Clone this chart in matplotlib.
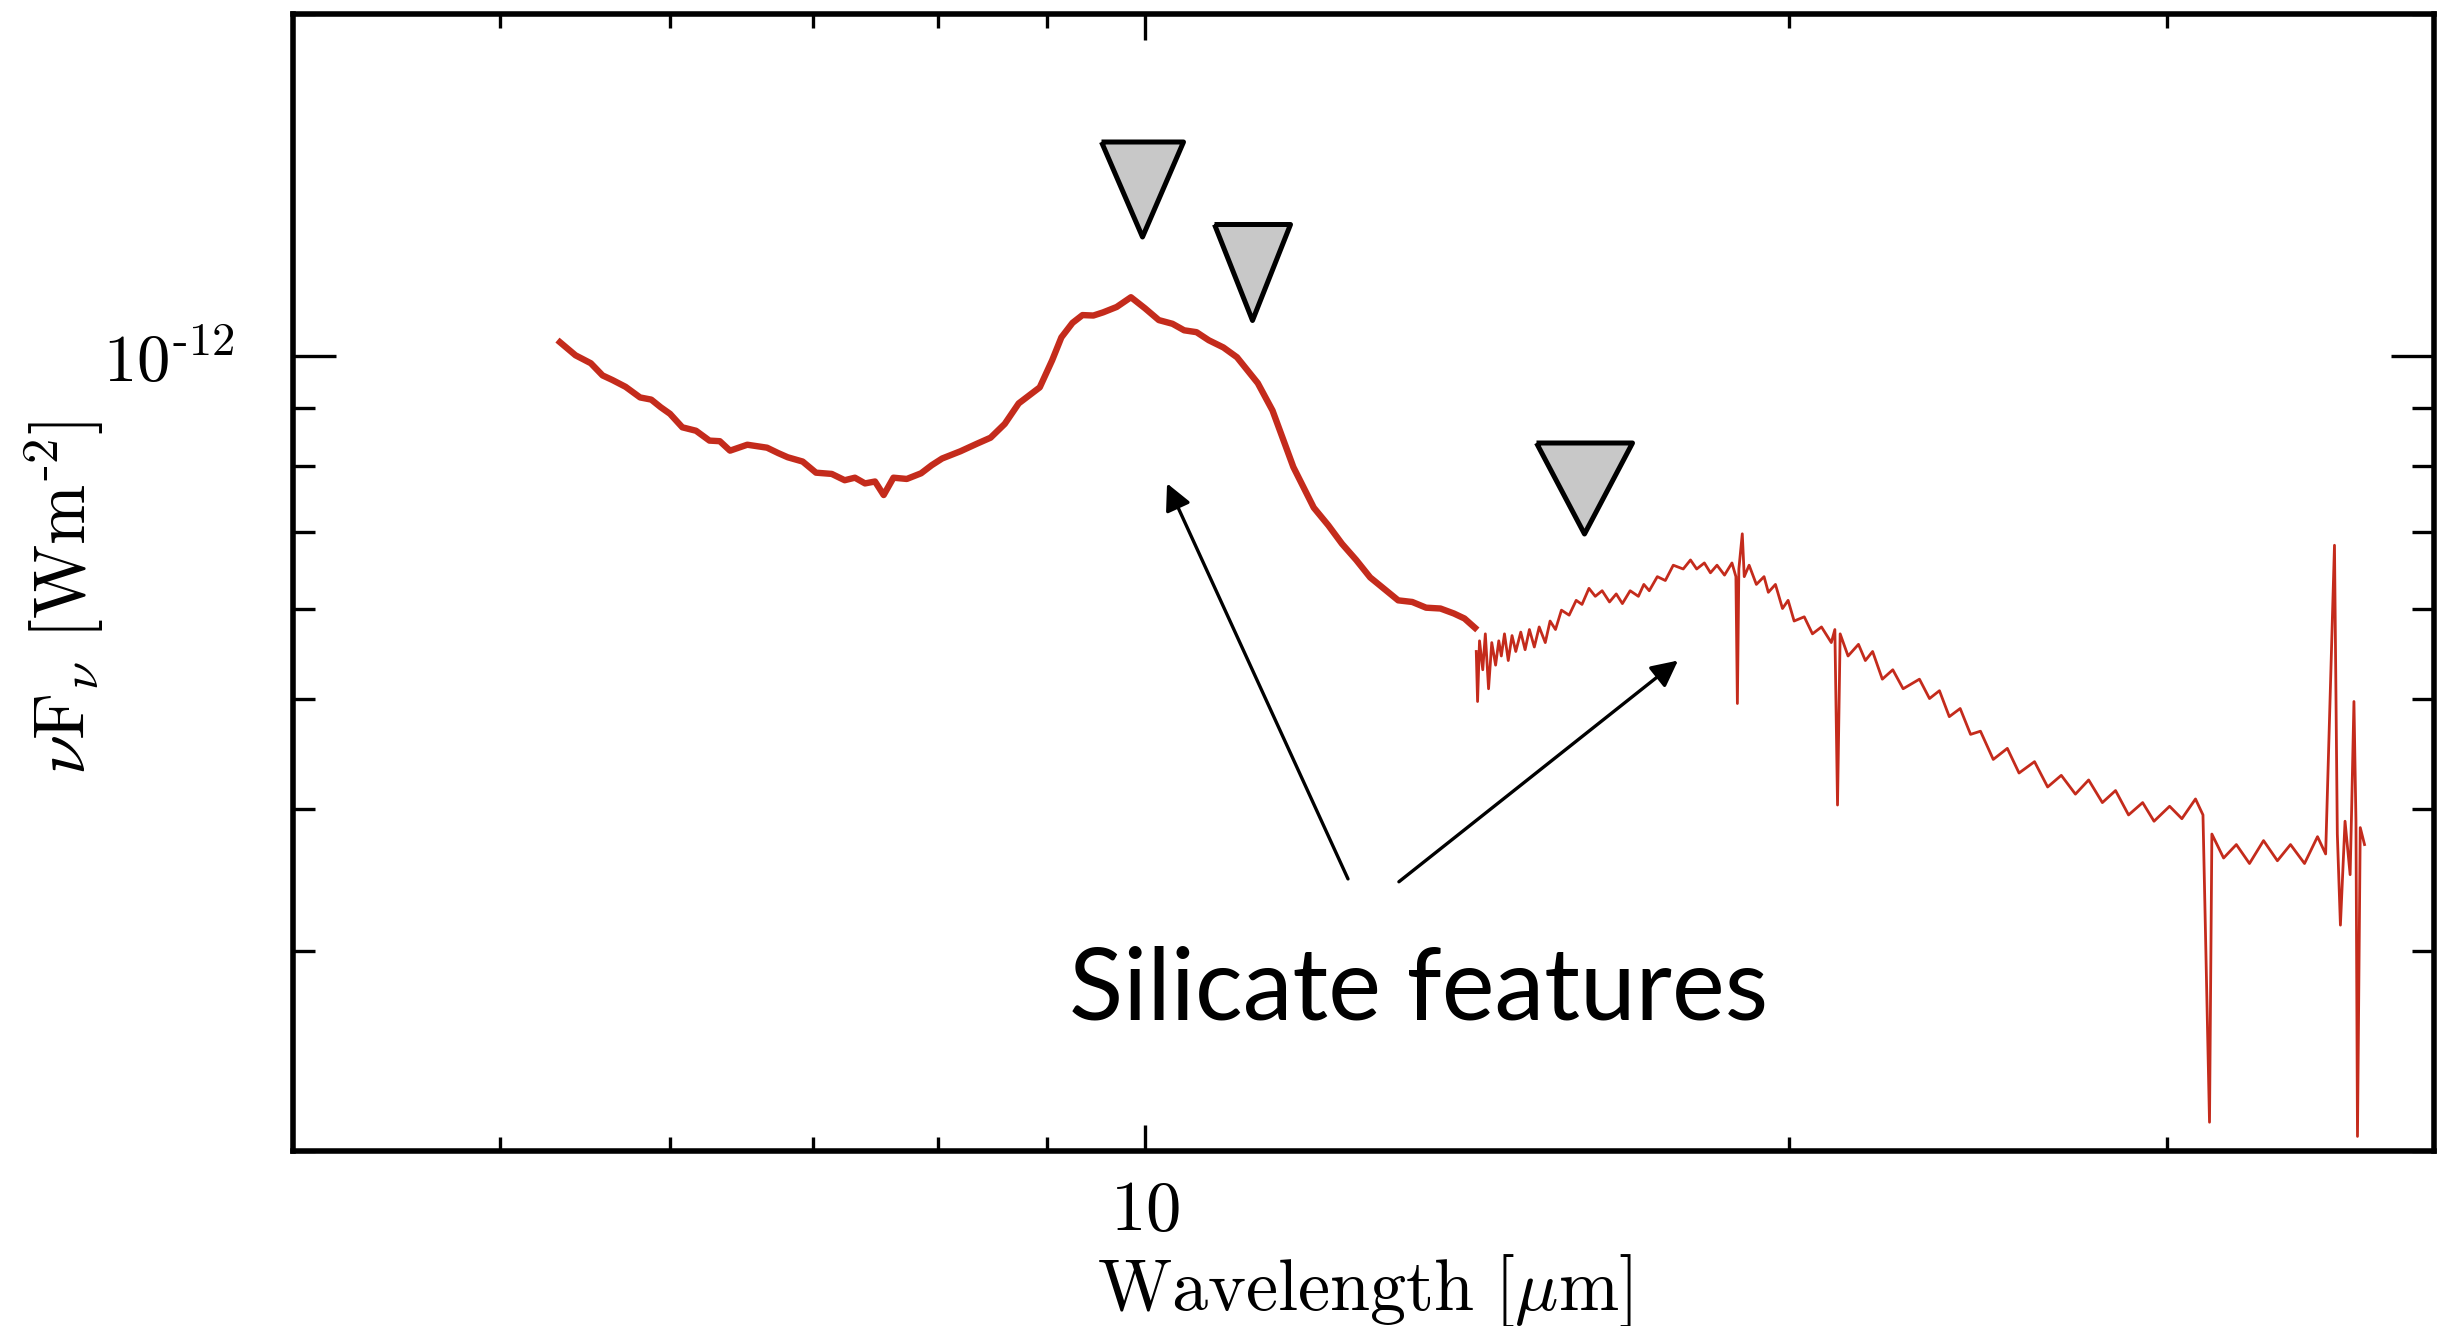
import matplotlib

matplotlib.use("Agg")
import matplotlib.pyplot as plt
from matplotlib.ticker import FixedLocator, NullFormatter, FixedFormatter


# smooth low-resolution part of the spectrum (wavelength in micron, flux in 1e-13 W m^-2)
WAVE_LOW = [5.33, 5.42, 5.51, 5.58, 5.64, 5.72, 5.81, 5.88, 5.94, 6.00, 6.08, 6.17,
            6.26, 6.33, 6.40, 6.52, 6.66, 6.74, 6.81, 6.92, 7.02, 7.14, 7.24,
            7.32, 7.40, 7.48, 7.55, 7.63, 7.74, 7.86, 7.95, 8.04, 8.20, 8.35, 8.47,
            8.60, 8.73, 8.93, 9.05, 9.14, 9.25, 9.35, 9.46, 9.56, 9.70, 9.85, 10.00,
            10.15, 10.30, 10.43, 10.57, 10.71, 10.88, 11.04, 11.29, 11.47, 11.73,
            11.99, 12.18, 12.36, 12.55, 12.74, 13.13, 13.33, 13.53, 13.74, 13.94,
            14.10, 14.26]
FLUX_LOW = [10.29, 10.02, 9.86, 9.62, 9.53, 9.40, 9.20, 9.16, 9.02, 8.90, 8.66, 8.60,
            8.43, 8.42, 8.26, 8.36, 8.31, 8.22, 8.15, 8.08, 7.90, 7.88, 7.78,
            7.82, 7.73, 7.76, 7.55, 7.82, 7.80, 7.89, 8.02, 8.13, 8.25, 8.38, 8.48,
            8.72, 9.09, 9.39, 9.92, 10.39, 10.70, 10.87, 10.86, 10.93, 11.05, 11.27,
            11.02, 10.76, 10.68, 10.54, 10.50, 10.33, 10.18, 9.98, 9.47, 8.96, 7.99,
            7.36, 7.10, 6.84, 6.62, 6.39, 6.10, 6.08, 6.01, 6.00, 5.94, 5.88, 5.77]

# noisy long-wavelength part
WAVE_HIGH = [14.28, 14.30, 14.33, 14.38, 14.42, 14.47, 14.52, 14.58, 14.63, 14.67,
             14.72, 14.78, 14.84, 14.90, 14.98, 15.05, 15.12, 15.20, 15.28, 15.38,
             15.46, 15.55, 15.65, 15.78, 15.90, 16.00, 16.12, 16.23, 16.35, 16.48,
             16.60, 16.71, 16.85, 17.00, 17.10, 17.20, 17.35, 17.50, 17.65, 17.84,
             17.98, 18.10, 18.25, 18.37, 18.50, 18.65, 18.80, 18.88, 18.91, 18.94,
             19.01, 19.05, 19.15, 19.30, 19.46, 19.55, 19.70, 19.85, 19.97, 20.10,
             20.32, 20.50, 20.70, 20.92, 21.00, 21.06, 21.12, 21.30, 21.54, 21.70,
             21.87, 22.10, 22.35, 22.60, 23.00, 23.25, 23.50, 23.75, 24.03, 24.30,
             24.56, 24.90, 25.28, 25.60, 26.03, 26.40, 26.79, 27.20, 27.59, 28.00,
             28.40, 28.80, 29.24, 29.60, 30.10, 30.50, 30.95, 31.20, 31.42, 31.50,
             31.90, 32.34, 32.80, 33.30, 33.80, 34.28, 34.80, 35.29, 35.60, 35.94,
             36.05, 36.17, 36.35, 36.55, 36.61, 36.70, 36.78, 36.84, 36.95, 37.12]
FLUX_HIGH = [5.50, 4.97, 5.62, 5.30, 5.70, 5.10, 5.60, 5.35, 5.62, 5.45,
             5.70, 5.40, 5.68, 5.50, 5.72, 5.52, 5.75, 5.55, 5.78, 5.60,
             5.85, 5.75, 5.98, 5.92, 6.10, 6.05, 6.25, 6.15, 6.22, 6.08,
             6.18, 6.06, 6.22, 6.15, 6.30, 6.22, 6.40, 6.35, 6.55, 6.50,
             6.62, 6.50, 6.58, 6.45, 6.55, 6.42, 6.58, 6.40, 4.95, 6.50,
             6.98, 6.40, 6.55, 6.30, 6.40, 6.20, 6.30, 6.00, 6.10, 5.85,
             5.90, 5.70, 5.78, 5.60, 5.75, 4.03, 5.70, 5.45, 5.58, 5.40,
             5.50, 5.20, 5.30, 5.10, 5.20, 5.00, 5.08, 4.82, 4.90, 4.65,
             4.68, 4.42, 4.52, 4.30, 4.40, 4.18, 4.28, 4.12, 4.24, 4.05,
             4.15, 3.95, 4.05, 3.90, 4.02, 3.92, 4.08, 3.95, 2.12, 3.80,
             3.62, 3.72, 3.58, 3.75, 3.60, 3.72, 3.58, 3.78, 3.65, 6.82,
             3.80, 3.16, 3.90, 3.50, 4.00, 4.97, 3.90, 2.06, 3.85, 3.72]

# feature markers (wavelength, flux in 1e-13)
MARK_WAVE = [9.97, 11.22, 16.04]
MARK_FLUX = [14.02, 11.86, 7.66]
MARK_SIZE_PX = [(82, 95), (76, 96), (96, 91)]

# arrows: (tail wave, tail flux) -> (head wave, head flux)
ARROWS = [((12.44, 3.47), (10.24, 7.73)), ((13.14, 3.45), (17.74, 5.40))]

X_MINOR = [5, 6, 7, 8, 9, 20, 30]
Y_MINOR = [2e-13, 3e-13, 4e-13, 5e-13, 6e-13, 7e-13, 8e-13, 9e-13, 2e-12]

LINE_COLOR = "#C42B1C"


def main():
    plt.rcParams.update({"mathtext.fontset": "cm"})
    dpi = 100
    fig = plt.figure(figsize=(2457 / dpi, 1326 / dpi), dpi=dpi)
    ax = fig.add_axes([293 / 2457, 1 - 1151 / 1326, 2141 / 2457, 1137 / 1326])
    ax.set_xscale("log")
    ax.set_yscale("log")
    ax.set_xlim(4, 40)
    ax.set_ylim(2e-13, 2e-12)

    ax.plot(WAVE_LOW, [f * 1e-13 for f in FLUX_LOW], color=LINE_COLOR,
            lw=4.6, solid_joinstyle="round", zorder=3)
    ax.plot(WAVE_HIGH, [f * 1e-13 for f in FLUX_HIGH], color=LINE_COLOR,
            lw=2.0, zorder=3)

    px_to_pt = 72 / dpi
    for w, f, (mw, mh) in zip(MARK_WAVE, MARK_FLUX, MARK_SIZE_PX):
        verts = [(-mw / 2, mh / 2), (mw / 2, mh / 2), (0, -mh / 2), (-mw / 2, mh / 2)]
        ax.plot([w], [f * 1e-13], marker=verts, markersize=max(mw, mh) * px_to_pt,
                markerfacecolor="#C8C8C8", markeredgecolor="black",
                markeredgewidth=3.6, linestyle="none", zorder=4)

    for (tw, tf), (hw, hf) in ARROWS:
        ax.annotate("", xy=(hw, hf * 1e-13), xytext=(tw, tf * 1e-13),
                    arrowprops=dict(arrowstyle="-|>", color="black", lw=2.4,
                                    mutation_scale=40, shrinkA=0, shrinkB=0))

    ax.text(9.22, 2.61e-13, "Silicate features", family="Lato", fontsize=72,
            ha="left", va="baseline", color="black")

    ax.xaxis.set_major_locator(FixedLocator([10]))
    ax.xaxis.set_major_formatter(FixedFormatter([r"$\mathrm{10}$"]))
    ax.xaxis.set_minor_locator(FixedLocator(X_MINOR))
    ax.xaxis.set_minor_formatter(NullFormatter())
    ax.yaxis.set_major_locator(FixedLocator([1e-12]))
    ax.yaxis.set_major_formatter(FixedFormatter([r"$10^{\text{-12}}$"]))
    ax.yaxis.set_minor_locator(FixedLocator(Y_MINOR))
    ax.yaxis.set_minor_formatter(NullFormatter())

    ax.tick_params(axis="x", which="both", direction="in", top=True, bottom=True,
                   width=2.4, color="black", labelsize=51, pad=18)
    ax.tick_params(axis="x", which="major", length=19)
    ax.tick_params(axis="x", which="minor", length=10)
    ax.tick_params(axis="y", which="both", direction="in", left=True, right=True,
                   width=2.4, color="black", labelsize=48, pad=42)
    ax.tick_params(axis="y", which="major", length=31)
    ax.tick_params(axis="y", which="minor", length=16)

    for spine in ax.spines.values():
        spine.set_linewidth(4.0)
        spine.set_color("black")

    ax.set_xlabel(r"$\mathrm{Wavelength\ [\mu m]}$", fontsize=52)
    ax.xaxis.set_label_coords(0.5007, -0.089)
    ax.set_ylabel(r"$\nu\mathrm{F}_\nu\ [\mathrm{Wm}^{\text{-2}}]$", fontsize=52)
    ax.yaxis.label.set_va("center")
    ax.yaxis.set_label_coords(-0.107, 0.4864)

    fig.savefig("out.png", dpi=dpi, facecolor="white")
    plt.close(fig)


if __name__ == "__main__":
    main()
